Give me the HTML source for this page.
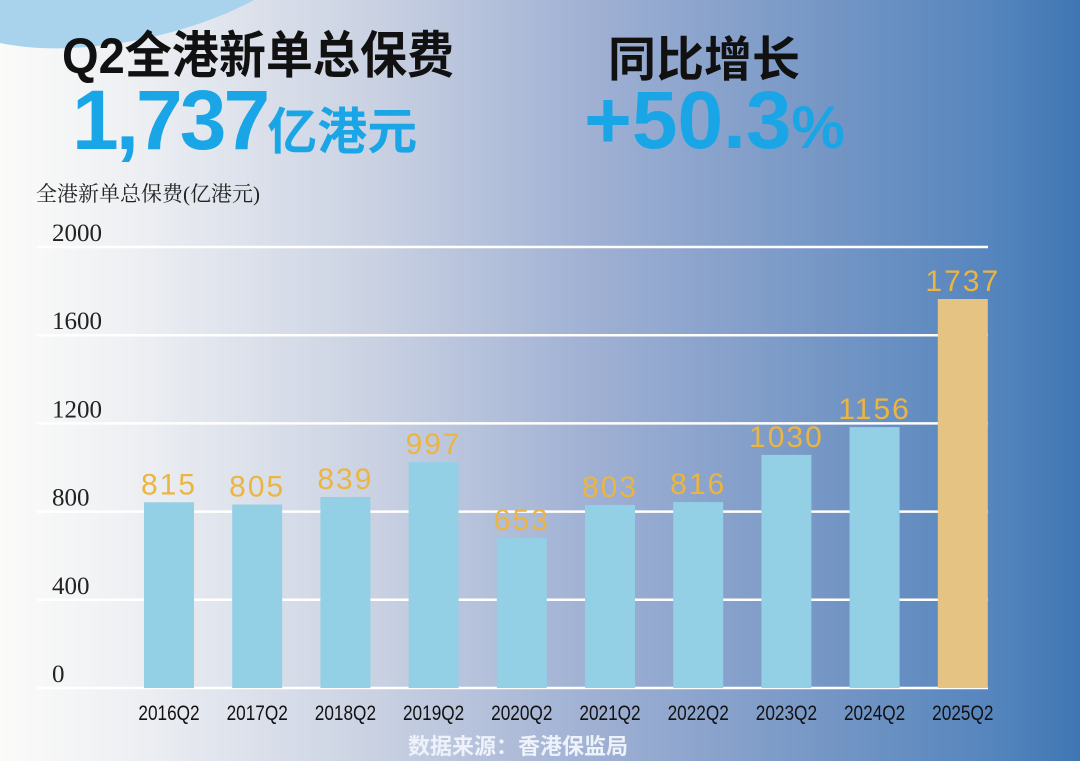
<!DOCTYPE html>
<html><head><meta charset="utf-8"><style>
html,body{margin:0;padding:0}
body{width:1080px;height:759px;overflow:hidden;position:relative;font-family:"Liberation Sans","Noto Sans CJK SC",sans-serif;
background:linear-gradient(90deg,#fbfbf9 0%,#eef0f3 12%,#c9d1e2 35%,#9fb0d3 55%,#7898c6 75%,#5585bd 92%,#3f76b3 100%)}
.abs{position:absolute;white-space:nowrap}
</style></head><body>
<div class="abs" style="left:-60px;top:-110px;width:380px;height:150px;border-radius:50%;background:#a9d3ec;transform:rotate(-12deg)"></div>
<div class="abs" style="left:62px;top:14px;font-size:48px;font-weight:bold;color:#111;transform:scale(0.98,1.05);transform-origin:left top">Q2全港新单总保费</div>
<div class="abs" style="left:608px;top:20px;font-size:48px;font-weight:bold;color:#111">同比增长</div>
<div class="abs" style="left:72px;top:72px;font-size:84px;font-weight:bold;color:#1aa6e6;letter-spacing:-3px">1,737<span style="font-size:50px;letter-spacing:0">亿港元</span></div>
<div class="abs" style="left:584px;top:74px;font-size:82px;font-weight:bold;color:#1aa6e6">+50.3<span style="font-size:60px">%</span></div>
<div class="abs" style="left:36px;top:178px;font-size:21px;color:#222;font-family:'Liberation Serif','Noto Serif CJK SC',serif">全港新单总保费(亿港元)</div>
<div class="abs" style="left:408px;top:729px;font-size:22px;font-weight:bold;color:#eef2fa">数据来源：香港保监局</div>
<svg id="chart" class="abs" style="left:0;top:0" width="1080" height="759"></svg>
<script>
const categories=["2016Q2","2017Q2","2018Q2","2019Q2","2020Q2","2021Q2","2022Q2","2023Q2","2024Q2","2025Q2"];
const values=[815,805,839,997,653,803,816,1030,1156,1737];
const ticks=[0,400,800,1200,1600,2000];
const svg=document.getElementById('chart');
const NS='http://www.w3.org/2000/svg';
const y0=688,y1=247,vmax=2000;
function yScale(v){return y0-(v/vmax)*(y0-y1);}
function xCenter(i){return 169+i*88.2;}
function mk(t,a){const e=document.createElementNS(NS,t);for(const k in a)e.setAttribute(k,a[k]);svg.appendChild(e);return e;}
ticks.forEach((t,i)=>{
  const g=mk('line',{x1:37,x2:988,y1:yScale(t),y2:yScale(t),stroke:'#fff','stroke-width':2.5});
  
  
  const l=mk('text',{x:52,y:yScale(t)-6,'font-size':25,fill:'#222','font-family':'Liberation Serif,serif'});
  l.textContent=t;
  
  
});
values.forEach((v,i)=>{
  const last=i===values.length-1;
  const cx=xCenter(i);
  const b=mk('rect',{x:cx-25,y:yScale(v)-6,width:50,height:y0-yScale(v)+6,fill:last?'#e5c383':'#93d0e6'});
  
  
  const t=mk('text',{x:cx,y:yScale(v)-14,'text-anchor':'middle','font-size':30,fill:'#ecb540','letter-spacing':2});
  t.textContent=v;
  
  
  const c=mk('text',{x:cx,y:720,'text-anchor':'middle','font-size':21,fill:'#111',transform:`translate(${cx},0) scale(0.82,1) translate(${-cx},0)`});
  c.textContent=categories[i];
  
  
});
</script>
</body></html>
